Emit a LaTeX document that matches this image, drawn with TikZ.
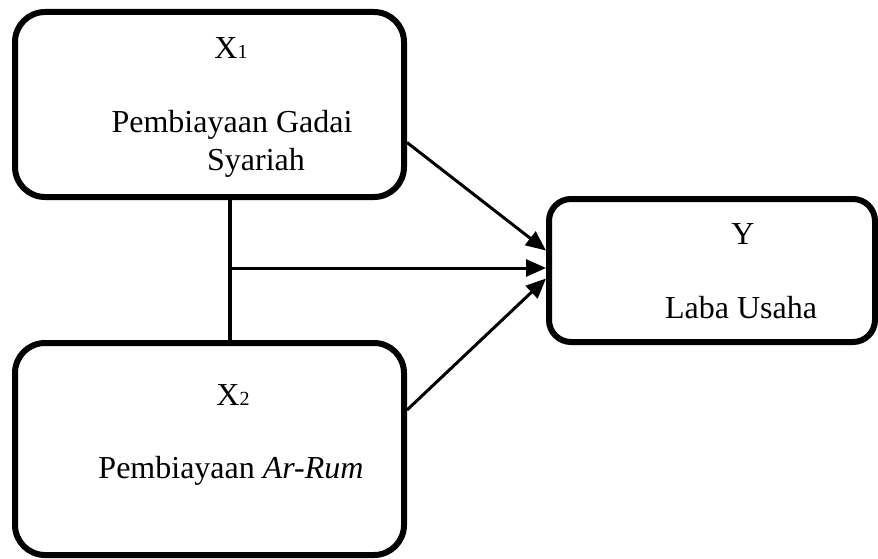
\documentclass[tikz,border=0pt]{standalone}
\usepackage{fontspec}
\setmainfont{Liberation Serif}
\usetikzlibrary{arrows.meta,calc}
\newcommand{\idx}[1]{{\fontsize{20}{20}\selectfont #1}}
\tikzset{
  varbox/.style={draw, line width=6pt, rounded corners=30pt, inner sep=0pt},
  lbl/.style={anchor=base, inner sep=0pt, font=\fontsize{32}{38}\selectfont},
  arr/.style={line width=3pt, -{Triangle[length=20pt,width=17pt]}}
}
\begin{document}
\begin{tikzpicture}[x=1pt, y=-1pt]
        \useasboundingbox (0,0) rectangle (878,559);
        \node[varbox, minimum width=389pt, minimum height=185pt] (x1) at (209.5,104.5) {};
        \node[varbox, minimum width=389pt, minimum height=212pt] (x2) at (209.5,449) {};
        \node[varbox, rounded corners=22pt, minimum width=326pt, minimum height=143pt] (y) at (712,270.5) {};
        \node[lbl] (x1a) at (231,59) {X\idx{1}};
        \node[lbl] (x1b) at (232,133) {Pembiayaan Gadai};
        \node[lbl] (x1c) at (256,170) {Syariah};
        \node[lbl] (x2a) at (233,405) {X\idx{2}};
        \node[lbl] (x2b) at (231,478) {Pembiayaan \textit{Ar-Rum}};
        \node[lbl] (ya) at (743,244) {Y};
        \node[lbl] (yb) at (741,318) {Laba Usaha};
        \coordinate (j) at (230,268);
        \draw[line width=4pt] (j |- x1.south) -- (j |- x2.north);
        \draw[arr] (j) -- (j -| y.west);
        \draw[arr] ($(x1.east)+(0,38)$) -- ($(y.west)+(0,-20)$);
        \draw[arr] ($(x2.east)+(0,-39)$) -- ($(y.west)+(0,8)$);
\end{tikzpicture}
\end{document}
